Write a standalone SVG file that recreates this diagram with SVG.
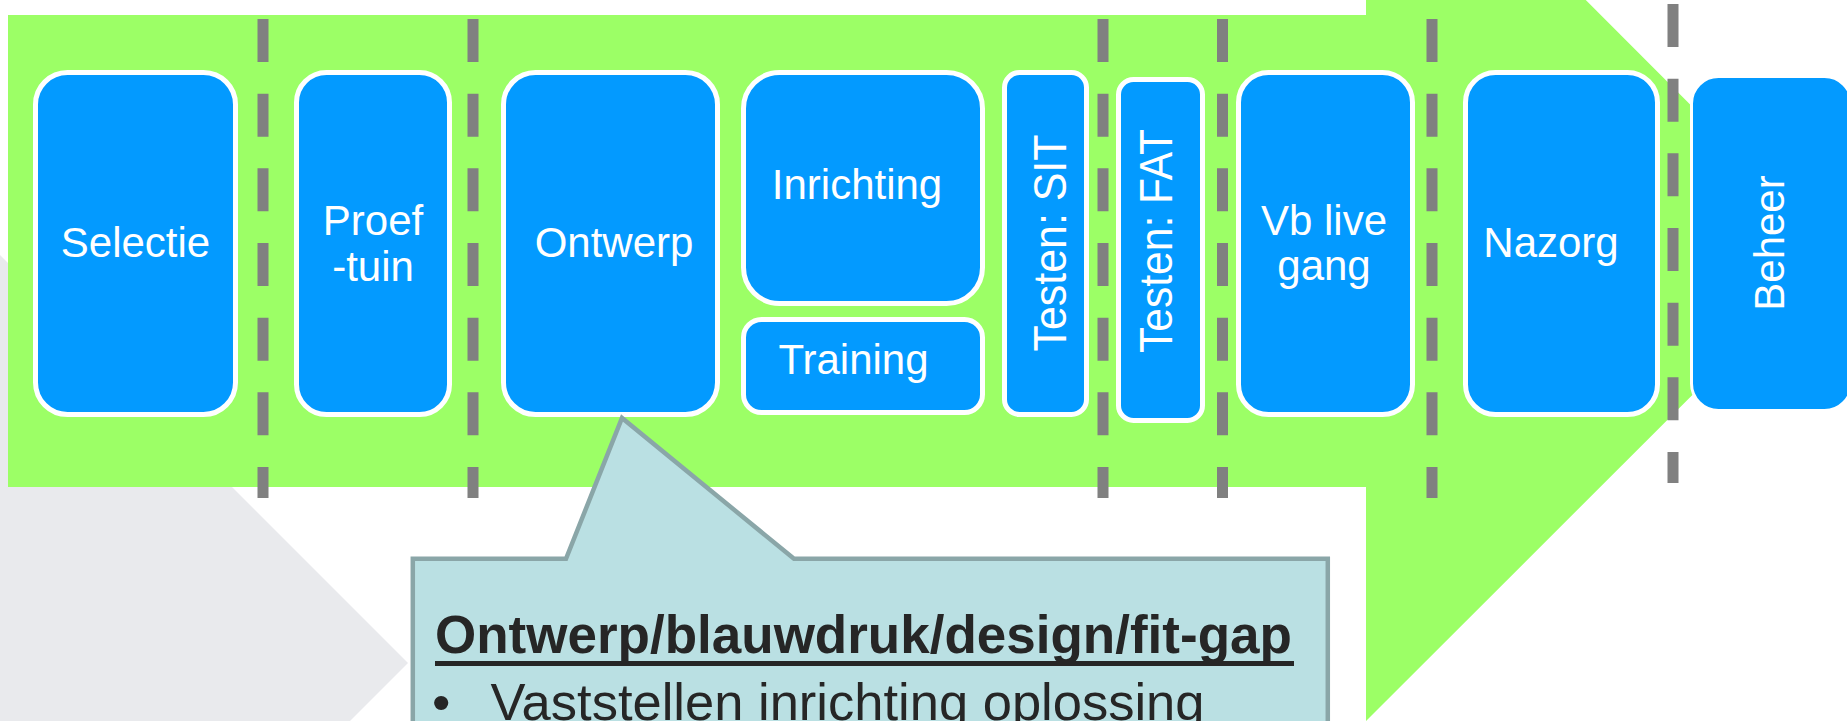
<svg xmlns="http://www.w3.org/2000/svg" width="1847" height="721" viewBox="0 0 1847 721">
<style>
.bg{fill:#e9eaed}
.arrow{fill:#9cff66}
.box{fill:#039aff;stroke:#ffffff;stroke-width:5}
.lbl{font-family:"Liberation Sans",Arial,sans-serif;font-size:42px;fill:#ffffff;text-anchor:middle}
.dash{stroke:#808080;stroke-width:11;stroke-dasharray:43 31.67;fill:none}
.callout{fill:#bae0e3;stroke:#8aa6a8;stroke-width:4.5;stroke-linejoin:miter}
.ctext{font-family:"Liberation Sans",Arial,sans-serif;fill:#262626}
</style>
<rect width="1847" height="721" fill="#ffffff"/>
<polygon class="bg" points="0,255 408,663 350,721 0,721"/>
<polygon class="arrow" points="8,15 1366,15 1366,-220 1836.5,251 1366,721 1366,487 8,487"/>
<g id="nodes">
<g id="selectie"><rect class="box" x="35.5" y="72.5" width="200" height="342" rx="32"/><text class="lbl" x="135.5" y="257">Selectie</text></g>
<g id="proeftuin"><rect class="box" x="296.5" y="72.5" width="153" height="342" rx="30"/><text class="lbl" x="373" y="235">Proef</text><text class="lbl" x="373" y="281">-tuin</text></g>
<g id="ontwerp"><rect class="box" x="503.5" y="72.5" width="214" height="342" rx="32"/><text class="lbl" x="614" y="257">Ontwerp</text></g>
<g id="inrichting"><rect class="box" x="743.5" y="72.5" width="239" height="231" rx="36"/><text class="lbl" x="857" y="199">Inrichting</text></g>
<g id="training"><rect class="box" x="743.5" y="319.5" width="239" height="93" rx="18"/><text class="lbl" x="853.5" y="374">Training</text></g>
<g id="testen-sit"><rect class="box" x="1004.5" y="72.5" width="82" height="342" rx="15"/><text class="lbl" font-size="46" textLength="217" lengthAdjust="spacingAndGlyphs" transform="translate(1066,243) rotate(-90)" style="font-size:46px">Testen: SIT</text></g>
<g id="testen-fat"><rect class="box" x="1118.5" y="79.5" width="84" height="341" rx="15"/><text class="lbl" textLength="224" lengthAdjust="spacingAndGlyphs" transform="translate(1172,241) rotate(-90)" style="font-size:46px">Testen: FAT</text></g>
<g id="vb-live-gang"><rect class="box" x="1238.5" y="72.5" width="174" height="342" rx="30"/><text class="lbl" x="1324" y="235">Vb live</text><text class="lbl" x="1324" y="280">gang</text></g>
<g id="nazorg"><rect class="box" x="1465.5" y="72.5" width="192" height="342" rx="30"/><text class="lbl" x="1551" y="257">Nazorg</text></g>
<g id="beheer"><rect class="box" x="1691.5" y="76.5" width="160" height="334" rx="27" style="stroke-width:3"/><text class="lbl" transform="translate(1784,243) rotate(-90)">Beheer</text></g>
</g>
<g id="connectors">
<line class="dash" x1="263" y1="19" x2="263" y2="498"/>
<line class="dash" x1="473" y1="19" x2="473" y2="498"/>
<line class="dash" x1="1103" y1="19" x2="1103" y2="498"/>
<line class="dash" x1="1222.5" y1="19" x2="1222.5" y2="498"/>
<line class="dash" x1="1432" y1="19" x2="1432" y2="498"/>
<line class="dash" x1="1673" y1="4" x2="1673" y2="483"/>
</g>
<g id="callout">
<path class="callout" d="M412.8 558.8 L566 558.8 L622 418 L794 558.8 L1327.8 558.8 L1327.8 740 L412.8 740 Z"/>
<text class="ctext" x="435" y="653" style="font-size:53px;font-weight:bold">Ontwerp/blauwdruk/design/fit-gap</text>
<line x1="435" y1="663.5" x2="1294" y2="663.5" stroke="#262626" stroke-width="5"/>
<text class="ctext" x="432" y="720" style="font-size:52.5px">•</text>
<text class="ctext" x="490.5" y="720" style="font-size:52.5px">Vaststellen inrichting oplossing</text>
</g>
</svg>
